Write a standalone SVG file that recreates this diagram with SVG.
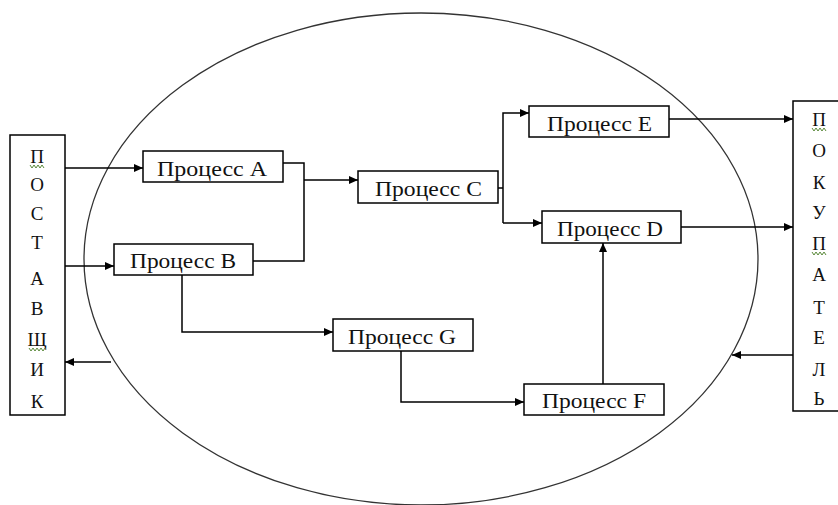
<svg xmlns="http://www.w3.org/2000/svg" width="838" height="505" viewBox="0 0 838 505">
<style>
.bx{fill:#fff;stroke:#000;stroke-width:1.5}
text{font-family:'Liberation Serif','DejaVu Serif',serif;fill:#111}
.lbl{font-size:22px}
.vl{font-size:19px;text-anchor:middle}
.cn{fill:none;stroke:#000;stroke-width:1.5}
.wv{fill:none;stroke:#5a8a3a;stroke-width:1}
</style>
<defs>
<marker id="ar" markerUnits="userSpaceOnUse" markerWidth="10" markerHeight="8" refX="9" refY="4" orient="auto">
<path d="M0,0 L9,4 L0,8 Z" fill="#000"/>
</marker>
</defs>
<rect width="838" height="505" fill="#fff"/>
<ellipse id="boundary" cx="421" cy="259" rx="337" ry="246" fill="none" stroke="#333" stroke-width="1.3"/>

<g id="connectors">
<path class="cn" d="M65,168 H143" marker-end="url(#ar)"/>
<path class="cn" d="M65,266 H114" marker-end="url(#ar)"/>
<path class="cn" d="M283,163 H304 V261 H253"/>
<path class="cn" d="M304,180 H358" marker-end="url(#ar)"/>
<path class="cn" d="M498,188 H503"/>
<path class="cn" d="M503,223 V113 H529" marker-end="url(#ar)"/>
<path class="cn" d="M503,223 H542" marker-end="url(#ar)"/>
<path class="cn" d="M669,119 H793" marker-end="url(#ar)"/>
<path class="cn" d="M681,227 H793" marker-end="url(#ar)"/>
<path class="cn" d="M793,355 H732" marker-end="url(#ar)"/>
<path class="cn" d="M111,362 H65" marker-end="url(#ar)"/>
<path class="cn" d="M182,275 V332 H333" marker-end="url(#ar)"/>
<path class="cn" d="M401,351 V402 H524" marker-end="url(#ar)"/>
<path class="cn" d="M603,384 V243" marker-end="url(#ar)"/>
</g>

<g id="supplier">
<rect class="bx" x="10" y="135" width="55" height="280"/>
<text class="vl" x="37" y="163">П</text>
<text class="vl" x="37" y="191">О</text>
<text class="vl" x="37" y="220">С</text>
<text class="vl" x="37" y="249">Т</text>
<text class="vl" x="37" y="285">А</text>
<text class="vl" x="37" y="315">В</text>
<text class="vl" x="37" y="346">Щ</text>
<text class="vl" x="37" y="376">И</text>
<text class="vl" x="37" y="408">К</text>
<path class="wv" d="M30,165 l2,3 l2,-3 l2,3 l2,-3 l2,3 l2,-3 l2,3"/>
<path class="wv" d="M29,348 l2,3 l2,-3 l2,3 l2,-3 l2,3 l2,-3 l2,3 l2,-3"/>
</g>

<g id="buyer">
<rect class="bx" x="793" y="101" width="60" height="310"/>
<text class="vl" x="819" y="126">П</text>
<text class="vl" x="819" y="157">О</text>
<text class="vl" x="819" y="189">К</text>
<text class="vl" x="819" y="219">У</text>
<text class="vl" x="819" y="250">П</text>
<text class="vl" x="819" y="281">А</text>
<text class="vl" x="819" y="314">Т</text>
<text class="vl" x="819" y="344">Е</text>
<text class="vl" x="819" y="376">Л</text>
<text class="vl" x="819" y="405">Ь</text>
<path class="wv" d="M812,128 l2,3 l2,-3 l2,3 l2,-3 l2,3 l2,-3 l2,3"/>
<path class="wv" d="M812,252 l2,3 l2,-3 l2,3 l2,-3 l2,3 l2,-3 l2,3"/>
</g>

<g id="processA">
<rect class="bx" x="143" y="151" width="140" height="31"/>
<text class="lbl" x="157" y="176" textLength="110" lengthAdjust="spacingAndGlyphs">Процесс A</text>
</g>
<g id="processB">
<rect class="bx" x="114" y="244" width="139" height="31"/>
<text class="lbl" x="130" y="268" textLength="106" lengthAdjust="spacingAndGlyphs">Процесс B</text>
</g>
<g id="processC">
<rect class="bx" x="358" y="171" width="140" height="32"/>
<text class="lbl" x="375" y="196" textLength="107" lengthAdjust="spacingAndGlyphs">Процесс C</text>
</g>
<g id="processE">
<rect class="bx" x="529" y="106" width="140" height="31"/>
<text class="lbl" x="547" y="131" textLength="105" lengthAdjust="spacingAndGlyphs">Процесс E</text>
</g>
<g id="processD">
<rect class="bx" x="542" y="211" width="139" height="32"/>
<text class="lbl" x="557" y="236" textLength="106" lengthAdjust="spacingAndGlyphs">Процесс D</text>
</g>
<g id="processG">
<rect class="bx" x="333" y="319" width="140" height="32"/>
<text class="lbl" x="348" y="344" textLength="108" lengthAdjust="spacingAndGlyphs">Процесс G</text>
</g>
<g id="processF">
<rect class="bx" x="524" y="384" width="140" height="31"/>
<text class="lbl" x="542" y="408" textLength="104" lengthAdjust="spacingAndGlyphs">Процесс F</text>
</g>
</svg>
